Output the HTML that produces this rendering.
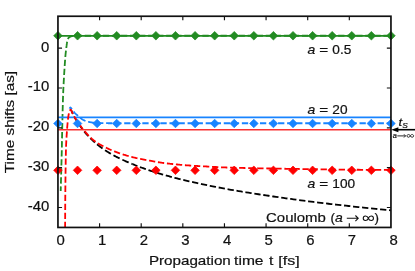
<!DOCTYPE html>
<html><head><meta charset="utf-8"><title>Time shifts</title>
<style>
html,body{margin:0;padding:0;background:#fff;}
body{width:415px;height:271px;overflow:hidden;font-family:"Liberation Sans",sans-serif;}
svg{display:block;}
</style></head><body>
<svg width="415" height="271" viewBox="0 0 415 271"><rect x="0" y="0" width="415" height="271" fill="#ffffff"/><defs><clipPath id="ax"><rect x="57.95" y="16.25" width="333.0" height="211.2"/></clipPath></defs><g clip-path="url(#ax)" fill="none" stroke-linecap="butt" stroke-linejoin="round"><path d="M71.57,110.96L71.65,111.13L71.73,111.31L71.81,111.48L71.88,111.65L71.96,111.81L72.03,111.97L72.10,112.12L72.17,112.27L72.24,112.42L72.30,112.57L72.36,112.73L72.42,112.89L72.49,113.05L72.55,113.22L72.61,113.39L72.68,113.57L72.75,113.75L72.83,113.93L72.90,114.13L72.99,114.33L73.08,114.54L73.18,114.75L73.29,114.98L73.41,115.23L73.55,115.49L73.70,115.77L73.87,116.06L74.04,116.36L74.22,116.68L74.41,117.00L74.61,117.32L74.81,117.66L75.02,117.99L75.22,118.32L75.43,118.66L75.63,118.99L75.84,119.31L76.03,119.63L76.22,119.94L76.41,120.24L76.59,120.54L76.77,120.83L76.95,121.11L77.13,121.40L77.31,121.68L77.49,121.97L77.67,122.25L77.86,122.54L78.05,122.84L78.25,123.14L78.46,123.45L78.67,123.77L78.89,124.10L79.12,124.45L79.37,124.81L79.62,125.18L79.90,125.58L80.20,126.01L80.52,126.46L80.85,126.93L81.20,127.41L81.55,127.91L81.93,128.42L82.30,128.93L82.69,129.45L83.08,129.97L83.48,130.48L83.87,130.99L84.27,131.50L84.66,131.99L85.05,132.46L85.43,132.92L85.81,133.37L86.19,133.80L86.57,134.24L86.96,134.67L87.34,135.09L87.73,135.51L88.12,135.93L88.51,136.34L88.91,136.75L89.30,137.16L89.71,137.56L90.11,137.97L90.51,138.37L90.92,138.77L91.34,139.17L91.75,139.57L92.17,139.97L92.59,140.36L93.01,140.76L93.43,141.14L93.85,141.52L94.27,141.90L94.70,142.28L95.13,142.66L95.56,143.04L96.00,143.41L96.45,143.79" stroke="#000000" stroke-width="1.8" stroke-dasharray="6.3 2.75" stroke-dashoffset="2.96"/><path d="M96.45,143.79L96.90,144.17L97.36,144.55L97.84,144.93L98.32,145.32L98.82,145.71L99.33,146.11L99.85,146.51L100.40,146.92L100.96,147.34L101.55,147.77L102.15,148.20L102.77,148.64L103.40,149.07L104.04,149.51L104.69,149.95L105.35,150.39L106.00,150.82L106.66,151.25L107.32,151.67L107.98,152.08L108.63,152.48L109.27,152.87L109.90,153.25L110.52,153.61L111.11,153.96L111.69,154.30L112.26,154.62L112.81,154.93L113.37,155.24L113.93,155.54L114.49,155.84L115.06,156.14L115.65,156.45L116.26,156.76L116.89,157.08L117.55,157.41L118.25,157.75L118.98,158.11L119.75,158.49L120.57,158.89L121.47,159.32L122.46,159.78L123.54,160.27L124.68,160.78L125.88,161.31L127.14,161.85L128.44,162.41L129.78,162.98L131.14,163.55L132.52,164.11" stroke="#000000" stroke-width="1.8" stroke-dasharray="6.892 3.009" stroke-dashoffset="9.11"/><path d="M132.52,164.11L133.91,164.68L135.30,165.23L136.67,165.78L138.03,166.31L139.36,166.81L140.65,167.30L141.91,167.76L143.16,168.21L144.41,168.65L145.66,169.09L146.91,169.52L148.16,169.95L149.41,170.37L150.66,170.78L151.91,171.19L153.15,171.59L154.40,171.99L155.65,172.38L156.90,172.77L158.15,173.15L159.40,173.53L160.65,173.90L161.90,174.27L163.13,174.63L164.32,174.97L165.48,175.30L166.61,175.62L167.73,175.93L168.84,176.24L169.95,176.54L171.08,176.84L172.23,177.14L173.41,177.45L174.63,177.76L175.89,178.08L177.21,178.42L178.60,178.76L180.07,179.12L181.62,179.51L183.27,179.91L185.08,180.34L187.07,180.81L189.22,181.30L191.51,181.82L193.92,182.36L196.44,182.91L199.05,183.48L201.73,184.05L204.45,184.63L207.21,185.20L209.99,185.77L212.76,186.34L215.51,186.89L218.23,187.42L220.88,187.93L223.46,188.42L225.97,188.88L228.47,189.33L230.97,189.77L233.47,190.21L235.97,190.64L238.47,191.06L240.97,191.48L243.47,191.89L245.97,192.29L248.47,192.69L250.97,193.08L253.47,193.48L255.97,193.86L258.47,194.25L260.97,194.63L263.47,195.01L265.97,195.38L268.47,195.76L270.97,196.13L273.47,196.50L275.97,196.86L278.46,197.22L280.96,197.58L283.46,197.94L285.96,198.29L288.46,198.64L290.96,198.98L293.46,199.32L295.96,199.66L298.46,200.00L300.96,200.33L303.46,200.65L305.96,200.98L308.46,201.30L310.96,201.61L313.46,201.93L315.96,202.23L318.46,202.54L320.96,202.84L323.46,203.14L325.96,203.44L328.46,203.74L330.96,204.03L333.46,204.32L335.96,204.60L338.46,204.89L340.96,205.17L343.46,205.45L345.96,205.73L348.46,206.00L350.96,206.28L353.45,206.55L355.95,206.82L358.45,207.08L360.95,207.34L363.45,207.60L365.95,207.86L368.45,208.11L370.95,208.37L373.45,208.62L375.95,208.87L378.45,209.13L380.95,209.38L383.45,209.63L385.95,209.89L388.45,210.14L390.95,210.40" stroke="#000000" stroke-width="1.8" stroke-dasharray="6.3 2.75" stroke-dashoffset="1.08"/><path d="M57.95,35.78H390.95" stroke="#228b22" stroke-width="1.75"/><path d="M60.70,191.00L60.76,188.89L60.82,186.71L60.88,184.45L60.94,182.14L61.01,179.80L61.07,177.43L61.14,175.05L61.20,172.68L61.27,170.32L61.33,168.01L61.39,165.74L61.45,163.53L61.51,161.40L61.57,159.36L61.62,157.43L61.66,155.62L61.71,153.95L61.74,152.43L61.78,151.07L61.80,149.89L61.82,148.85L61.84,147.90L61.86,147.03L61.88,146.23L61.89,145.50L61.91,144.82L61.92,144.18L61.93,143.57L61.94,142.98L61.95,142.39L61.96,141.81L61.98,141.22L61.99,140.60L62.00,139.95L62.01,139.26L62.03,138.51L62.04,137.70L62.06,136.82L62.08,135.84L62.10,134.78L62.13,133.56L62.16,132.17L62.19,130.63L62.23,128.95L62.26,127.14L62.30,125.22L62.35,123.21L62.39,121.11L62.44,118.94L62.49,116.71L62.55,114.44L62.60,112.15L62.66,109.83L62.72,107.52L62.78,105.22L62.85,102.95L62.91,100.72L62.98,98.54L63.05,96.43L63.12,94.39L63.21,92.27L63.30,90.05L63.41,87.72L63.53,85.33L63.66,82.89L63.80,80.41L63.94,77.93L64.08,75.47L64.23,73.04L64.38,70.67L64.53,68.37L64.67,66.18L64.81,64.11L64.94,62.18L65.07,60.41L65.18,58.83L65.29,57.45L65.38,56.31L65.46,55.41L65.52,54.76L65.58,54.21L65.63,53.69L65.68,53.22L65.73,52.78L65.77,52.38L65.81,52.00L65.85,51.65L65.89,51.32L65.92,51.01L65.96,50.72L65.99,50.43L66.03,50.16L66.06,49.89L66.09,49.62L66.13,49.35L66.16,49.07L66.20,48.78L66.24,48.48L66.28,48.17L66.32,47.83L66.36,47.49L66.41,47.14L66.45,46.79L66.49,46.44L66.53,46.09L66.57,45.74L66.62,45.39L66.66,45.04L66.70,44.69L66.75,44.35L66.79,44.02L66.84,43.69L66.88,43.37L66.93,43.06L66.98,42.76L67.03,42.48L67.08,42.20L67.13,41.94L67.18,41.69L67.23,41.46L67.29,41.23L67.34,41.01L67.40,40.78L67.46,40.57L67.52,40.35L67.58,40.14L67.64,39.94L67.70,39.74L67.76,39.54L67.83,39.36L67.89,39.17L67.96,39.00L68.03,38.84L68.10,38.68L68.17,38.53L68.25,38.39L68.32,38.26L68.40,38.14L68.48,38.03L68.56,37.93L68.64,37.83L68.72,37.74L68.81,37.65L68.90,37.56L68.99,37.48L69.09,37.40L69.18,37.33L69.28,37.25L69.38,37.18L69.48,37.11L69.59,37.05L69.69,36.99L69.80,36.93L69.91,36.87L70.02,36.81L70.13,36.76L70.25,36.71L70.36,36.66L70.48,36.61L70.59,36.56L70.72,36.52L70.84,36.47L70.96,36.42L71.09,36.38L71.22,36.33L71.36,36.29L71.49,36.25L71.63,36.21L71.77,36.17L71.91,36.13L72.06,36.10L72.21,36.06L72.35,36.03L72.50,36.00L72.66,35.98L72.81,35.95L72.97,35.93L73.12,35.92L73.28,35.90L73.45,35.89L73.61,35.88L73.78,35.87L73.96,35.86L74.14,35.85L74.32,35.84L74.51,35.83L74.69,35.83L74.88,35.82L75.08,35.81L75.27,35.81L75.46,35.80L75.66,35.79L75.85,35.79L76.05,35.78L76.24,35.78L76.43,35.77L76.62,35.76L76.81,35.76L77.00,35.75L390.95,35.75" stroke="#228b22" stroke-width="1.8" stroke-dasharray="6.3 2.75" stroke-dashoffset="1.66"/><path d="M57.95,117.4H390.95" stroke="#1884ff" stroke-width="1.8"/><path d="M57.95,129.85H390.95" stroke="#fa3030" stroke-width="1.5"/><path d="M69.50,108.60L69.94,107.85L70.37,107.51L70.81,107.76L71.24,108.29L71.68,108.98L72.11,109.71L72.55,110.34L72.98,110.85L73.42,111.35L73.85,111.85L74.29,112.34L74.72,112.81L75.16,113.27L75.59,113.70L76.03,114.12L76.46,114.51L76.90,114.88L77.33,115.24L77.77,115.60L78.21,115.95L78.64,116.32L79.08,116.70L79.51,117.10L79.95,117.50L80.38,117.89L80.82,118.26L81.25,118.61L81.69,118.92L82.12,119.21L82.56,119.48L82.99,119.73L83.43,119.97L83.86,120.20L84.30,120.40L84.73,120.59L85.17,120.76L85.60,120.93L86.04,121.08L86.47,121.22L86.91,121.36L87.35,121.48L87.78,121.60L88.22,121.72L88.65,121.82L89.09,121.92L89.52,122.01L89.96,122.10L90.39,122.19L90.83,122.27L91.26,122.35L91.70,122.42L92.13,122.49L92.57,122.55L93.00,122.60L93.44,122.65L93.87,122.70L94.31,122.74L94.74,122.78L95.18,122.82L95.62,122.86L96.05,122.90L96.49,122.93L96.92,122.95L97.36,122.98L97.79,123.00L98.23,123.02L98.66,123.04L99.10,123.05L99.53,123.07L99.97,123.08L100.40,123.10L100.84,123.11L101.27,123.13L101.71,123.14L102.14,123.15L102.58,123.16L103.01,123.17L103.45,123.18L103.88,123.19L104.32,123.19L104.76,123.20L105.19,123.20L105.63,123.21L106.06,123.21L106.50,123.21L106.93,123.22L107.37,123.22L107.80,123.22L108.24,123.23L108.67,123.23L109.11,123.23L109.54,123.24L109.98,123.24L110.41,123.24L110.85,123.24L111.28,123.24L111.72,123.25L112.15,123.25L112.59,123.25L113.03,123.25L113.46,123.25L113.90,123.25L114.33,123.25L114.77,123.25L115.20,123.25L115.64,123.25L116.07,123.25L116.51,123.25L116.94,123.25L117.38,123.25L117.81,123.25L118.25,123.25L118.68,123.25L119.12,123.25L119.55,123.25L119.99,123.25L120.42,123.25L120.86,123.25L121.29,123.25L121.73,123.25L122.17,123.25L122.60,123.25L123.04,123.25L123.47,123.25L123.91,123.25L124.34,123.25L124.78,123.25L125.21,123.25L125.65,123.25L126.08,123.25L126.52,123.25L126.95,123.25L127.39,123.25L127.82,123.25L128.26,123.25L128.69,123.25L129.13,123.25L129.56,123.25L130.00,123.25L390.95,123.25" stroke="#1884ff" stroke-width="1.8" stroke-dasharray="6.3 2.75" stroke-dashoffset="2.5"/><path d="M65.10,228.50L65.11,226.20L65.13,223.94L65.14,221.71L65.15,219.50L65.16,217.29L65.17,215.08L65.18,212.86L65.20,210.62L65.21,208.35L65.22,206.04L65.24,203.67L65.25,201.25L65.27,198.76L65.29,196.18L65.31,193.49L65.34,190.52L65.37,187.32L65.41,183.93L65.45,180.42L65.49,176.82L65.54,173.20L65.59,169.61L65.64,166.11L65.69,162.74L65.74,159.56L65.80,156.63L65.85,153.99L65.90,151.71L65.96,149.82L66.01,148.20L66.06,146.69L66.11,145.30L66.16,144.01L66.22,142.80L66.27,141.66L66.33,140.57L66.39,139.53L66.45,138.51L66.51,137.51L66.57,136.51L66.64,135.50L66.70,134.46L66.77,133.38L66.85,132.25L66.93,131.08L67.02,129.87L67.11,128.65L67.21,127.41L67.31,126.18L67.41,124.97L67.52,123.79L67.62,122.65L67.73,121.56L67.83,120.54L67.93,119.60L68.03,118.75L68.13,118.01L68.22,117.38L68.31,116.80L68.39,116.25L68.48,115.72L68.56,115.21L68.64,114.73L68.72,114.28L68.80,113.85L68.88,113.45L68.97,113.07L69.05,112.73L69.13,112.41L69.21,112.13L69.29,111.87L69.38,111.65L69.47,111.45L69.55,111.25L69.64,111.06L69.73,110.87L69.82,110.69L69.91,110.52L70.00,110.36L70.09,110.21L70.18,110.08L70.27,109.97L70.37,109.87L70.46,109.79L70.55,109.74L70.64,109.71L70.73,109.70L70.82,109.73L70.91,109.80L71.00,109.89L71.09,110.02L71.18,110.16L71.27,110.33L71.36,110.51L71.46,110.70L71.55,110.90L71.64,111.10L71.72,111.30L71.81,111.50L71.90,111.70L71.99,111.88L72.07,112.05L72.15,112.22L72.23,112.39L72.30,112.57L72.37,112.75L72.44,112.93L72.52,113.11L72.59,113.31L72.67,113.50L72.75,113.71L72.83,113.92L72.92,114.14L73.02,114.37L73.13,114.61L73.25,114.86L73.39,115.13L73.55,115.42L73.73,115.74L73.92,116.07L74.12,116.41L74.34,116.77L74.56,117.13L74.80,117.50L75.03,117.87L75.27,118.25L75.51,118.62L75.74,118.98L75.97,119.34L76.19,119.69L76.41,120.03L76.62,120.36L76.83,120.68L77.04,121.00L77.25,121.32L77.46,121.64L77.67,121.96L77.89,122.29L78.11,122.62L78.34,122.95L78.58,123.30L78.83,123.66L79.09,124.03L79.36,124.41L79.65,124.81L79.95,125.22L80.26,125.65L80.59,126.09L80.92,126.54L81.28,127.01L81.64,127.49L82.02,127.97L82.41,128.47L82.81,128.98L83.23,129.49L83.66,130.02L84.11,130.55L84.56,131.09L85.03,131.64L85.53,132.21L86.07,132.82L86.64,133.46L87.25,134.13L87.88,134.81L88.53,135.50L89.19,136.20L89.87,136.89L90.55,137.57L91.24,138.23L91.92,138.87L92.60,139.47L93.27,140.04L93.92,140.56L94.56,141.04L95.19,141.50L95.82,141.94L96.45,142.36L97.09,142.77L97.72,143.17L98.35,143.55L98.98,143.92L99.61,144.29L100.25,144.64L100.88,144.99L101.52,145.34L102.15,145.68L102.79,146.02L103.43,146.36L104.07,146.70L104.72,147.03L105.36,147.36L106.01,147.68L106.66,148.00L107.31,148.31L107.96,148.62L108.61,148.92L109.26,149.22L109.91,149.51L110.56,149.80L111.21,150.08L111.86,150.36L112.51,150.63L113.16,150.89L113.81,151.15L114.46,151.41L115.11,151.66L115.76,151.90L116.41,152.14L117.06,152.38L117.71,152.62L118.36,152.85L119.01,153.07L119.65,153.30L120.30,153.52L120.94,153.73L121.59,153.95L122.23,154.16L122.87,154.37L123.51,154.57L124.14,154.78L124.78,154.98L125.41,155.18L126.04,155.38L126.68,155.57L127.31,155.76L127.94,155.95L128.57,156.13L129.20,156.31L129.84,156.49L130.47,156.66L131.10,156.82L131.73,156.98L132.37,157.14L133.00,157.29L133.64,157.45L134.27,157.59L134.90,157.74L135.54,157.88L136.17,158.02L136.81,158.16L137.44,158.29L138.07,158.43L138.71,158.56L139.34,158.69L139.97,158.82L140.61,158.95L141.24,159.07L141.87,159.20L142.51,159.32L143.14,159.44L143.77,159.56L144.40,159.67L145.03,159.79L145.66,159.90L146.30,160.02L146.93,160.13L147.57,160.24L148.20,160.36L148.84,160.48L149.48,160.59L150.12,160.71L150.75,160.83L151.38,160.95L152.01,161.07L152.63,161.19L153.26,161.31L153.89,161.43L154.53,161.55L155.17,161.67L155.82,161.78L156.48,161.90L157.14,162.02L157.83,162.13L158.52,162.24L159.24,162.35L159.96,162.46L160.69,162.57L161.43,162.68L162.18,162.78L162.94,162.89L163.72,162.99L164.50,163.09L165.30,163.20L166.11,163.30L166.93,163.40L167.77,163.50L168.62,163.60L169.49,163.70L170.37,163.80L171.27,163.90L172.21,164.01L173.17,164.11L174.15,164.22L175.16,164.32L176.17,164.42L177.21,164.52L178.25,164.63L179.29,164.72L180.34,164.82L181.39,164.91L182.43,165.00L183.47,165.09L184.49,165.17L185.50,165.24L186.50,165.32L187.51,165.39L188.51,165.45L189.52,165.52L190.52,165.58L191.52,165.64L192.53,165.70L193.53,165.76L194.54,165.82L195.55,165.88L196.56,165.93L197.58,165.99L198.59,166.05L199.62,166.11L200.64,166.17L201.68,166.22L202.72,166.28L203.76,166.34L204.81,166.40L205.86,166.45L206.90,166.51L207.95,166.56L209.00,166.62L210.04,166.67L211.08,166.73L212.11,166.78L213.13,166.83L214.15,166.88L215.14,166.94L216.09,166.99L217.00,167.04L217.89,167.09L218.75,167.13L219.61,167.18L220.48,167.23L221.37,167.28L222.28,167.33L223.23,167.37L224.23,167.42L225.29,167.47L226.42,167.52L227.63,167.56L228.94,167.61L230.42,167.66L232.08,167.71L233.89,167.76L235.85,167.81L237.92,167.86L240.08,167.91L242.32,167.97L244.61,168.02L246.92,168.06L249.24,168.11L251.55,168.16L253.82,168.21L256.03,168.25L258.15,168.29L260.21,168.33L262.25,168.37L264.29,168.41L266.31,168.44L268.33,168.48L270.35,168.51L272.36,168.55L274.39,168.58L276.41,168.61L278.45,168.64L280.50,168.68L282.56,168.71L284.65,168.74L286.75,168.78L288.87,168.81L291.03,168.85L293.22,168.88L295.44,168.92L297.68,168.95L299.93,168.99L302.20,169.03L304.46,169.06L306.73,169.10L308.99,169.13L311.23,169.17L313.46,169.20L315.66,169.23L317.83,169.27L319.97,169.30L322.05,169.33L324.07,169.36L326.04,169.39L327.97,169.42L329.88,169.45L331.77,169.48L333.66,169.51L335.57,169.54L337.51,169.56L339.48,169.59L341.51,169.62L343.60,169.64L345.77,169.67L348.03,169.69L350.40,169.71L352.90,169.73L355.52,169.75L358.24,169.77L361.06,169.79L363.95,169.80L366.90,169.82L369.89,169.84L372.92,169.85L375.97,169.87L379.02,169.88L382.06,169.90L385.07,169.92L388.04,169.93L390.95,169.95" stroke="#ff0000" stroke-width="1.8" stroke-dasharray="6.3 2.75" stroke-dashoffset="8.65"/></g><path d="M57.95,31.45L62.25,35.75L57.95,40.05L53.65,35.75ZM77.54,31.45L81.84,35.75L77.54,40.05L73.24,35.75ZM97.13,31.45L101.43,35.75L97.13,40.05L92.83,35.75ZM116.71,31.45L121.01,35.75L116.71,40.05L112.41,35.75ZM136.30,31.45L140.60,35.75L136.30,40.05L132.00,35.75ZM155.89,31.45L160.19,35.75L155.89,40.05L151.59,35.75ZM175.48,31.45L179.78,35.75L175.48,40.05L171.18,35.75ZM195.07,31.45L199.37,35.75L195.07,40.05L190.77,35.75ZM214.66,31.45L218.96,35.75L214.66,40.05L210.36,35.75ZM234.24,31.45L238.54,35.75L234.24,40.05L229.94,35.75ZM253.83,31.45L258.13,35.75L253.83,40.05L249.53,35.75ZM273.42,31.45L277.72,35.75L273.42,40.05L269.12,35.75ZM293.01,31.45L297.31,35.75L293.01,40.05L288.71,35.75ZM312.60,31.45L316.90,35.75L312.60,40.05L308.30,35.75ZM332.19,31.45L336.49,35.75L332.19,40.05L327.89,35.75ZM351.77,31.45L356.07,35.75L351.77,40.05L347.47,35.75ZM371.36,31.45L375.66,35.75L371.36,40.05L367.06,35.75ZM390.95,31.45L395.25,35.75L390.95,40.05L386.65,35.75Z" fill="#228b22" stroke="#228b22" stroke-width="0.7" stroke-linejoin="round"/><path d="M57.95,119.20L62.25,123.50L57.95,127.80L53.65,123.50ZM77.54,119.20L81.84,123.50L77.54,127.80L73.24,123.50ZM97.13,119.20L101.43,123.50L97.13,127.80L92.83,123.50ZM116.71,119.20L121.01,123.50L116.71,127.80L112.41,123.50ZM136.30,119.20L140.60,123.50L136.30,127.80L132.00,123.50ZM155.89,119.20L160.19,123.50L155.89,127.80L151.59,123.50ZM175.48,119.20L179.78,123.50L175.48,127.80L171.18,123.50ZM195.07,119.20L199.37,123.50L195.07,127.80L190.77,123.50ZM214.66,119.20L218.96,123.50L214.66,127.80L210.36,123.50ZM234.24,119.20L238.54,123.50L234.24,127.80L229.94,123.50ZM253.83,119.20L258.13,123.50L253.83,127.80L249.53,123.50ZM273.42,119.20L277.72,123.50L273.42,127.80L269.12,123.50ZM293.01,119.20L297.31,123.50L293.01,127.80L288.71,123.50ZM312.60,119.20L316.90,123.50L312.60,127.80L308.30,123.50ZM332.19,119.20L336.49,123.50L332.19,127.80L327.89,123.50ZM351.77,119.20L356.07,123.50L351.77,127.80L347.47,123.50ZM371.36,119.20L375.66,123.50L371.36,127.80L367.06,123.50ZM390.95,119.20L395.25,123.50L390.95,127.80L386.65,123.50Z" fill="#1884ff" stroke="#1884ff" stroke-width="0.7" stroke-linejoin="round"/><path d="M57.95,166.00L62.25,170.30L57.95,174.60L53.65,170.30ZM77.54,166.00L81.84,170.30L77.54,174.60L73.24,170.30ZM97.13,166.00L101.43,170.30L97.13,174.60L92.83,170.30ZM116.71,166.00L121.01,170.30L116.71,174.60L112.41,170.30ZM136.30,166.00L140.60,170.30L136.30,174.60L132.00,170.30ZM155.89,166.00L160.19,170.30L155.89,174.60L151.59,170.30ZM175.48,166.00L179.78,170.30L175.48,174.60L171.18,170.30ZM195.07,166.00L199.37,170.30L195.07,174.60L190.77,170.30ZM214.66,166.00L218.96,170.30L214.66,174.60L210.36,170.30ZM234.24,166.00L238.54,170.30L234.24,174.60L229.94,170.30ZM253.83,166.00L258.13,170.30L253.83,174.60L249.53,170.30ZM273.42,166.00L277.72,170.30L273.42,174.60L269.12,170.30ZM293.01,166.00L297.31,170.30L293.01,174.60L288.71,170.30ZM312.60,166.00L316.90,170.30L312.60,174.60L308.30,170.30ZM332.19,166.00L336.49,170.30L332.19,174.60L327.89,170.30ZM351.77,166.00L356.07,170.30L351.77,174.60L347.47,170.30ZM371.36,166.00L375.66,170.30L371.36,174.60L367.06,170.30ZM390.95,166.00L395.25,170.30L390.95,174.60L386.65,170.30Z" fill="#ff0000" stroke="#ff0000" stroke-width="0.7" stroke-linejoin="round"/><path d="M99.58,227.45v-4.1M99.58,16.25v4.1M141.20,227.45v-4.1M141.20,16.25v4.1M182.82,227.45v-4.1M182.82,16.25v4.1M224.45,227.45v-4.1M224.45,16.25v4.1M266.07,227.45v-4.1M266.07,16.25v4.1M307.70,227.45v-4.1M307.70,16.25v4.1M349.32,227.45v-4.1M349.32,16.25v4.1M57.95,48.13h4.1M390.95,48.13h-4.1M57.95,87.98h4.1M390.95,87.98h-4.1M57.95,127.83h4.1M390.95,127.83h-4.1M57.95,167.68h4.1M390.95,167.68h-4.1M57.95,207.53h4.1M390.95,207.53h-4.1" stroke="#111111" stroke-width="1.15" fill="none"/><rect x="57.95" y="16.25" width="333.0" height="211.2" fill="none" stroke="#111111" stroke-width="1.7"/><path d="M398,129.7H415" stroke="#000" stroke-width="1.6" fill="none"/><path d="M391.2,129.7L398.4,127.2L398.4,132.2Z" fill="#000"/><g font-family="Liberation Sans, sans-serif" fill="#111" stroke="#111" stroke-width="0.2" style="filter:grayscale(1)"><text transform="translate(60.55,244.7) scale(1.05,1)" font-size="14.2" text-anchor="middle">0</text><text transform="translate(102.17,244.7) scale(1.05,1)" font-size="14.2" text-anchor="middle">1</text><text transform="translate(143.80,244.7) scale(1.05,1)" font-size="14.2" text-anchor="middle">2</text><text transform="translate(185.42,244.7) scale(1.05,1)" font-size="14.2" text-anchor="middle">3</text><text transform="translate(227.05,244.7) scale(1.05,1)" font-size="14.2" text-anchor="middle">4</text><text transform="translate(268.68,244.7) scale(1.05,1)" font-size="14.2" text-anchor="middle">5</text><text transform="translate(310.30,244.7) scale(1.05,1)" font-size="14.2" text-anchor="middle">6</text><text transform="translate(351.93,244.7) scale(1.05,1)" font-size="14.2" text-anchor="middle">7</text><text transform="translate(393.55,244.7) scale(1.05,1)" font-size="14.2" text-anchor="middle">8</text><text transform="translate(49.4,51.53) scale(1.05,1)" font-size="14.2" text-anchor="end">0</text><text transform="translate(49.4,91.38) scale(1.05,1)" font-size="14.2" text-anchor="end">-10</text><text transform="translate(49.4,131.23) scale(1.05,1)" font-size="14.2" text-anchor="end">-20</text><text transform="translate(49.4,171.08) scale(1.05,1)" font-size="14.2" text-anchor="end">-30</text><text transform="translate(49.4,210.93) scale(1.05,1)" font-size="14.2" text-anchor="end">-40</text><text transform="translate(148.9,264.5) scale(1.17,1)" font-size="13" text-anchor="start">Propagation</text><text transform="translate(234.1,264.5) scale(1.2,1)" font-size="13" text-anchor="start">time</text><text transform="translate(269.1,264.5) scale(1.2,1)" font-size="13" text-anchor="start">t</text><text transform="translate(278.3,264.5) scale(1.23,1)" font-size="13" text-anchor="start">[fs]</text><text transform="translate(14,122.05) rotate(-90) scale(1.178,1)" font-size="13" text-anchor="middle">Time shifts [as]</text><text transform="translate(307.6,54.1) scale(1.15,1)" font-size="12.2" text-anchor="start" font-style="italic">a</text><text transform="translate(319.3,54.1) scale(1.25,1)" font-size="12.2" text-anchor="start">=</text><text transform="translate(332.3,54.1) scale(1.12,1)" font-size="12.2" text-anchor="start">0.5</text><text transform="translate(307.6,113.8) scale(1.15,1)" font-size="12.2" text-anchor="start" font-style="italic">a</text><text transform="translate(319.3,113.8) scale(1.25,1)" font-size="12.2" text-anchor="start">=</text><text transform="translate(332.3,113.8) scale(1.12,1)" font-size="12.2" text-anchor="start">20</text><text transform="translate(307.6,188.4) scale(1.15,1)" font-size="12.2" text-anchor="start" font-style="italic">a</text><text transform="translate(319.3,188.4) scale(1.25,1)" font-size="12.2" text-anchor="start">=</text><text transform="translate(332.3,188.4) scale(1.12,1)" font-size="12.2" text-anchor="start">100</text><text transform="translate(266.0,221.8) scale(1.16,1)" font-size="12.9" text-anchor="start">Coulomb</text><text transform="translate(330.6,221.8) scale(1.1,1)" font-size="12.2" text-anchor="start">(</text><text transform="translate(335.0,221.8) scale(1.15,1)" font-size="12.2" text-anchor="start" font-style="italic">a</text><text transform="translate(374.5,221.8) scale(1.1,1)" font-size="12.2" text-anchor="start">)</text><text transform="translate(398.6,125.8) scale(1.15,1)" font-size="11.5" text-anchor="start" font-style="italic">t</text><text transform="translate(402.2,127.6) scale(1.1,1)" font-size="7.6" text-anchor="start" font-style="italic">S</text><text transform="translate(392.8,137.7) scale(1.05,1)" font-size="7" text-anchor="start" font-style="italic">a</text></g><path d="M346.8,218.3H357.9M355.40,215.50L358.2,218.3L355.40,221.10" fill="none" stroke="#111" stroke-width="1.1" stroke-linejoin="miter"/><path d="M368.35,218.2C369.57,214.95 373.45,215.47 373.45,218.2C373.45,220.93 369.57,221.45 368.35,218.2C367.13,214.95 363.25,215.47 363.25,218.2C363.25,220.93 367.13,221.45 368.35,218.2Z" fill="none" stroke="#111" stroke-width="1.1"/><path d="M397.3,135.9H405.3M404.00,134.30L405.6,135.9L404.00,137.50" fill="none" stroke="#111" stroke-width="0.9" stroke-linejoin="miter"/><path d="M410.3,135.9C411.09,133.90 413.60,134.22 413.60,135.9C413.60,137.58 411.09,137.90 410.3,135.9C409.51,133.90 407.00,134.22 407.00,135.9C407.00,137.58 409.51,137.90 410.3,135.9Z" fill="none" stroke="#111" stroke-width="0.85"/></svg>
</body></html>
